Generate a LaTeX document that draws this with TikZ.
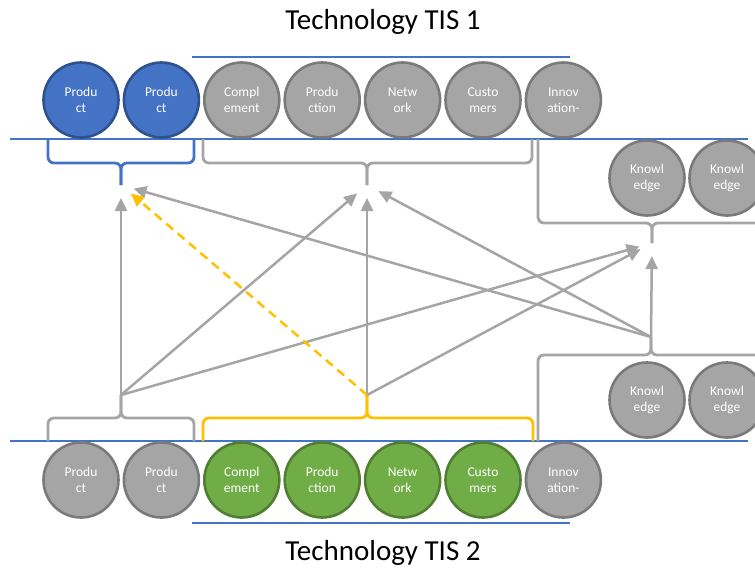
\documentclass[tikz,border=0pt]{standalone}
\usepackage{fontspec}
\setmainfont{Carlito}
\usetikzlibrary{arrows.meta,positioning}
\definecolor{tisgrey}{HTML}{A5A5A5}
\definecolor{tisgreyline}{HTML}{7A7A7A}
\definecolor{tisblue}{HTML}{4472C4}
\definecolor{tisblueline}{HTML}{2F528F}
\definecolor{tisgreen}{HTML}{70AD47}
\definecolor{tisgreenline}{HTML}{507E32}
\definecolor{tisyellow}{HTML}{FFC000}

\begin{document}
\begin{tikzpicture}[x=1pt, y=-1pt,% pixel grid, y runs downwards
           > = {Triangle[length=13pt, width=12pt]},
  tis/.style = {circle, draw, minimum size=75pt,
                inner sep=0pt, outer sep=0pt, line width=2.6pt,
                text=white, align=center, font=\fontsize{13.5}{16.5}\selectfont},
plain tis/.style = {tis, fill=tisgrey, draw=tisgreyline},
  tis one/.style = {tis, fill=tisblue, draw=tisblueline},
  tis two/.style = {tis, fill=tisgreen, draw=tisgreenline},
  bar/.style = {draw=tisblue, line width=1.4pt},
brace/.style = {line width=2.8pt, rounded corners=6pt},
 link/.style = {->, draw=tisgrey, line width=2.5pt, shorten >=13pt}
                    ]
\useasboundingbox (0,0) rectangle (755,568);
	% titles and bars
	\node[font=\fontsize{29}{34}\selectfont] (title1) at (383,22) {Technology TIS 1};
	\node[font=\fontsize{29}{34}\selectfont] (title2) at (383,553) {Technology TIS 2};
	\draw[bar] (192,57)  -- (570,57);
	\draw[bar] (10,139)  -- (748,139);
	\draw[bar] (10,441)  -- (748,441);
	\draw[bar] (192,523) -- (570,523);

	% the two rows of elements
	\foreach \txt/\sty [count=\i] in {{Produ\\ct}/tis one, {Produ\\ct}/tis one,
	        {Compl\\ement}/plain tis, {Produ\\ction}/plain tis, {Netw\\ork}/plain tis,
	        {Custo\\mers}/plain tis, {Innov\\ation-}/plain tis}
	    \node[\sty] (t\i) at (81+80.4*\i-80.4,100) {\txt};
	\foreach \txt/\sty [count=\i] in {{Produ\\ct}/plain tis, {Produ\\ct}/plain tis,
	        {Compl\\ement}/tis two, {Produ\\ction}/tis two, {Netw\\ork}/tis two,
	        {Custo\\mers}/tis two, {Innov\\ation-}/plain tis}
	    \node[\sty] (b\i) at (81+80.4*\i-80.4,480) {\txt};

	% knowledge
	\node[plain tis] (k1) at (647,178) {Knowl\\edge};
	\node[plain tis] (k2) at (727,178) {Knowl\\edge};
	\node[plain tis] (k3) at (647,400) {Knowl\\edge};
	\node[plain tis] (k4) at (727,400) {Knowl\\edge};

	% brace tips
	\coordinate (tl) at (121,185);
	\coordinate (tm) at (367,185);
	\coordinate (kt) at (652,243);
	\coordinate (bl) at (121,395);
	\coordinate (bm) at (367,395);
	\coordinate (kb) at (651,337);

	% braces
	\draw[brace, tisblue] (48,139) |- (121,163) -- (tl);
	\draw[brace, tisblue] (194,139) |- (121,163) -- (tl);
	\draw[brace, tisgrey] (203,139) |- (367,163) -- (tm);
	\draw[brace, tisgrey] (532,139) |- (367,163) -- (tm);
	\draw[brace, tisgrey] (538,139) |- (652,223) -- (kt);
	\draw[brace, tisgrey] (760,223) -- (652,223) -- (kt);
	\draw[brace, tisgrey] (48,441) |- (121,418) -- (bl);
	\draw[brace, tisgrey] (194,441) |- (121,418) -- (bl);
	\draw[brace, tisyellow] (203,441) |- (367,418) -- (bm);
	\draw[brace, tisyellow] (533,441) |- (367,418) -- (bm);
	\draw[brace, tisgrey] (538,441) |- (651,355) -- (kb);
	\draw[brace, tisgrey] (760,355) -- (651,355) -- (kb);

	% influences
	\draw[link] (bl) -- (tl);
	\draw[link] (bl) -- (tm);
	\draw[link] (bl) -- (kt);
	\draw[link] (bm) -- (tm);
	\draw[link] (bm) -- (kt);
	\draw[link] (kb) -- (kt);
	\draw[link] (kb) -- (tl);
	\draw[link] (kb) -- (tm);
	\draw[link, draw=tisyellow, dash pattern=on 9pt off 6pt] (bm) -- (tl);
\end{tikzpicture}
\end{document}
